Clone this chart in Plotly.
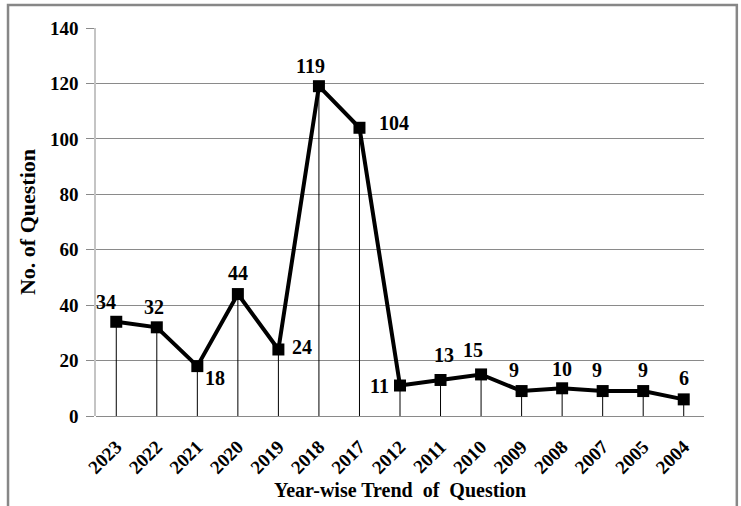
import plotly.graph_objects as go

years = ["2023", "2022", "2021", "2020", "2019", "2018", "2017", "2012",
         "2011", "2010", "2009", "2008", "2007", "2005", "2004"]
questions = [34, 32, 18, 44, 24, 119, 104, 11, 13, 15, 9, 10, 9, 9, 6]

y_ticks = [0, 20, 40, 60, 80, 100, 120, 140]

# label offsets (pixels) - styling only
label_dx = [-10, -3, 18, 0, 24, -8, 35, -21, 3, -8, -8, 0, -6, 0, 0]
label_dy = [20, 20, -12, 21, 2, 20, 5, 0, 25, 24, 21, 19, 21, 21, 21]

FONT = "Liberation Serif"

fig = go.Figure()
fig.add_trace(go.Scatter(
    x=years, y=questions,
    mode="lines+markers",
    line=dict(color="black", width=4),
    marker=dict(symbol="square", size=12, color="black"),
    error_y=dict(type="data", symmetric=False, array=[0] * len(questions),
                 arrayminus=questions, color="black", thickness=1, width=0),
    showlegend=False,
    cliponaxis=False,
    hoverinfo="skip",
))

for i, (y, dx, dy) in enumerate(zip(questions, label_dx, label_dy)):
    fig.add_annotation(x=i, y=y, text=str(y), showarrow=False,
                       xshift=dx, yshift=dy,
                       font=dict(family=FONT, size=20, color="black",
                                 weight="bold"))

fig.add_shape(type="rect", xref="paper", yref="paper",
              x0=-0.1447, x1=1.054, y0=-0.4, y1=1.0592,
              line=dict(color="#878787", width=2.5), layer="above")

fig.update_layout(
    width=741, height=506,
    margin=dict(l=96, r=37, t=28, b=90, autoexpand=False),
    paper_bgcolor="white", plot_bgcolor="white",
    font=dict(family=FONT, color="black"),
    xaxis=dict(
        type="category",
        range=[-0.5, len(years) - 0.5],
        tickangle=-45,
        tickfont=dict(family=FONT, size=19, color="black", weight="bold"),
        ticklabelstandoff=15,
        showgrid=False,
        showline=False,
        ticks="",
        automargin=False,
        title=dict(text="Year-wise Trend  of  Question",
                   font=dict(family=FONT, size=20, color="black",
                             weight="bold"),
                   standoff=6),
    ),
    yaxis=dict(
        range=[0, 140],
        tickvals=y_ticks,
        tickfont=dict(family=FONT, size=19, color="black", weight="bold"),
        ticklabelstandoff=4,
        showgrid=True, gridcolor="#8a8a8a", gridwidth=1.3,
        showline=True, linecolor="#c4c4c4", linewidth=1.5,
        ticks="outside", ticklen=8, tickcolor="#8a8a8a",
        zeroline=True, zerolinecolor="#8a8a8a", zerolinewidth=1.3,
        automargin=False,
        title=dict(text="No. of Question",
                   font=dict(family=FONT, size=22, color="black",
                             weight="bold"),
                   standoff=8),
    ),
)

fig.write_html("out.html", config={"displayModeBar": False},
               post_script="document.body.style.margin='0';")
